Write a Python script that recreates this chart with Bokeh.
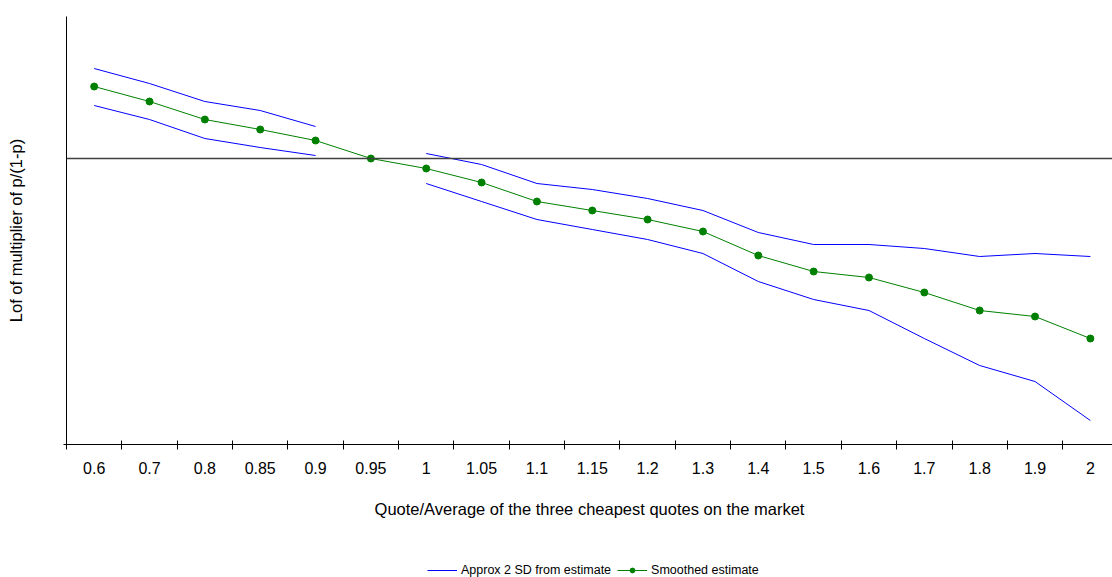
from bokeh.plotting import figure
from bokeh.layouts import column
from bokeh.models import (Range1d, FixedTicker, Span, Legend, LegendItem, ColumnDataSource)
from bokeh.embed import file_html
from bokeh.resources import INLINE

NaN = float("nan")

categories = ["0.6", "0.7", "0.8", "0.85", "0.9", "0.95", "1", "1.05", "1.1", "1.15",
              "1.2", "1.3", "1.4", "1.5", "1.6", "1.7", "1.8", "1.9", "2"]
smoothed = [0.72, 0.57, 0.39, 0.29, 0.18, 0.00, -0.10, -0.24, -0.43, -0.52,
            -0.61, -0.73, -0.97, -1.13, -1.19, -1.34, -1.52, -1.58, -1.80]
upper_2sd = [0.90, 0.75, 0.57, 0.48, 0.32, NaN, 0.05, -0.06, -0.25, -0.31,
             -0.40, -0.52, -0.74, -0.86, -0.86, -0.90, -0.98, -0.95, -0.98]
lower_2sd = [0.53, 0.39, 0.20, 0.11, 0.03, NaN, -0.25, -0.43, -0.61, -0.71,
             -0.81, -0.95, -1.23, -1.41, -1.52, -1.80, -2.07, -2.23, -2.62]
series_names = ["Approx 2 SD from estimate", "Smoothed estimate"]

FONT = "Liberation Sans"
BLUE = "#0000FF"
GREEN = "#008000"

xs = list(range(len(categories)))
src = ColumnDataSource(dict(x=xs, sm=smoothed, up=upper_2sd, lo=lower_2sd))

p = figure(width=1112, height=550, output_backend="svg", toolbar_location=None,
           x_range=Range1d(-0.5, len(categories) - 0.6),
           y_range=Range1d(-2.86, 1.42),
           min_border_top=16, min_border_left=66, min_border_right=0, min_border_bottom=106)
p.outline_line_color = None
p.grid.visible = False
p.background_fill_color = "white"
p.border_fill_color = "white"

# zero line
p.add_layout(Span(location=0, dimension="width", line_color="#404040", line_width=1.3))

p.line("x", "up", source=src, line_color=BLUE, line_width=1)
p.line("x", "lo", source=src, line_color=BLUE, line_width=1)
p.line("x", "sm", source=src, line_color=GREEN, line_width=1)
p.scatter("x", "sm", source=src, size=7, fill_color=GREEN, line_color=GREEN)

# x axis: labels at category centres, ticks at category boundaries
xa = p.xaxis[0]
xa.ticker = FixedTicker(ticks=xs, minor_ticks=[i - 0.5 for i in range(len(categories) + 1)])
xa.major_label_overrides = {i: c for i, c in enumerate(categories)}
xa.major_tick_in = 0
xa.major_tick_out = 0
xa.minor_tick_in = 4
xa.minor_tick_out = 5
xa.minor_tick_line_color = "black"
xa.axis_line_color = "black"
xa.major_label_text_font = FONT
xa.major_label_text_font_size = "16px"
xa.major_label_text_color = "black"
xa.major_label_standoff = 12
xa.axis_label = "Quote/Average of the three cheapest quotes on the market"
xa.axis_label_text_font = FONT
xa.axis_label_text_font_size = "16.5px"
xa.axis_label_text_font_style = "normal"
xa.axis_label_text_color = "black"
xa.axis_label_standoff = 23

ya = p.yaxis[0]
ya.ticker = FixedTicker(ticks=[], minor_ticks=[-2.86])
ya.minor_tick_in = 0
ya.minor_tick_out = 3
ya.minor_tick_line_color = "black"
ya.axis_line_color = "black"
ya.axis_label = "Lof of multiplier of p/(1-p)"
ya.axis_label_text_font = FONT
ya.axis_label_text_font_size = "16.5px"
ya.axis_label_text_font_style = "normal"
ya.axis_label_text_color = "black"
ya.axis_label_standoff = 39

# legend strip below the chart (its frame is aligned with the chart's frame)
pl = figure(width=1112, height=27, output_backend="svg", toolbar_location=None,
            x_range=Range1d(0, 1), y_range=Range1d(0, 1),
            min_border=0, min_border_left=66)
pl.outline_line_color = None
pl.axis.visible = False
pl.grid.visible = False
l_blue = pl.line(x=[NaN], y=[NaN], line_color=BLUE, line_width=1)
l_green = pl.line(x=[NaN], y=[NaN], line_color=GREEN, line_width=1)
s_green = pl.scatter(x=[NaN], y=[NaN], size=7, fill_color=GREEN, line_color=GREEN)

legend = Legend(items=[LegendItem(label=series_names[0], renderers=[l_blue]),
                       LegendItem(label=series_names[1], renderers=[l_green, s_green])],
                orientation="horizontal", location=(361, 0),
                label_text_font=FONT, label_text_font_size="12.5px", label_text_color="black",
                glyph_width=30, glyph_height=12, label_standoff=4, spacing=6,
                padding=0, margin=0, border_line_alpha=0, background_fill_alpha=0)
pl.add_layout(legend, "center")

layout = column(p, pl, spacing=0)
open("out.html", "w").write(file_html(layout, INLINE))
